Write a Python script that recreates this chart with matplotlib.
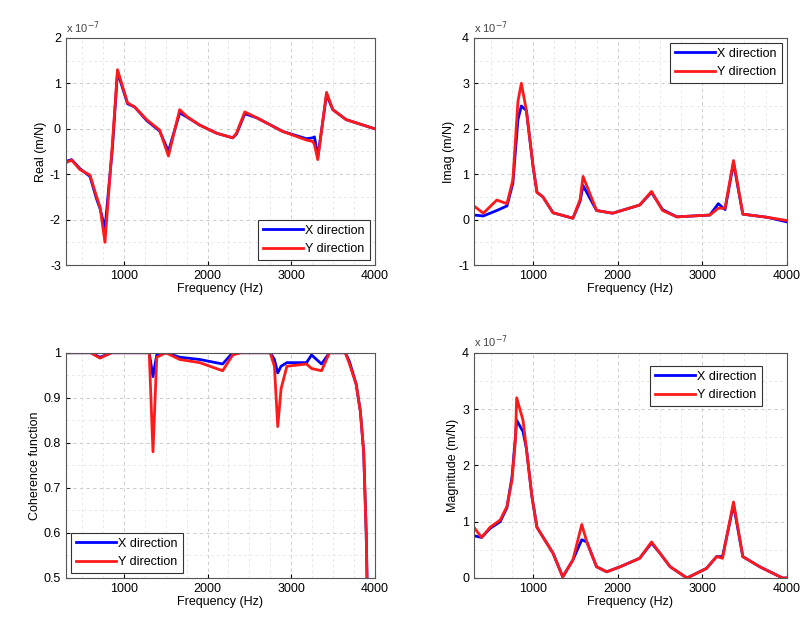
import matplotlib
matplotlib.use('Agg')
import matplotlib.pyplot as plt
import numpy as np
from matplotlib.ticker import MultipleLocator

plt.rcParams['font.family'] = ['Liberation Sans', 'DejaVu Sans']
plt.rcParams['font.size'] = 9
plt.rcParams['axes.unicode_minus'] = False

# Real part (x 1e-7 m/N)
f_re = [300, 370, 470, 590, 670, 710, 770, 860, 920, 1040, 1125, 1270, 1425, 1530,
        1665, 1750, 1905, 2110, 2300, 2345, 2445, 2590, 2900, 3185, 3260, 3280, 3320,
        3425, 3500, 3660, 4000]
re_x = [-0.72, -0.68, -0.88, -1.05, -1.55, -1.75, -2.2, -0.4, 1.25, 0.55, 0.48, 0.18, -0.05,
        -0.5, 0.35, 0.26, 0.08, -0.1, -0.2, -0.12, 0.33, 0.24, -0.06, -0.22, -0.2, -0.18,
        -0.62, 0.75, 0.42, 0.2, 0.0]
re_y = [-0.75, -0.69, -0.9, -1.02, -1.5, -1.72, -2.5, -0.3, 1.3, 0.57, 0.48, 0.2, -0.03,
        -0.6, 0.42, 0.27, 0.08, -0.1, -0.2, -0.1, 0.37, 0.24, -0.06, -0.25, -0.28, -0.35,
        -0.68, 0.8, 0.42, 0.2, 0.0]

# Imaginary part (x 1e-7 m/N)
f_im = [300, 410, 570, 690, 760, 820, 860, 920, 1000, 1045, 1115, 1235, 1470, 1555,
        1590, 1750, 1940, 2260, 2400, 2530, 2700, 3090, 3190, 3270, 3370, 3480, 3770, 4000]
im_x = [0.1, 0.08, 0.2, 0.3, 0.8, 2.2, 2.5, 2.4, 1.15, 0.6, 0.5, 0.15, 0.03, 0.4,
        0.75, 0.2, 0.14, 0.32, 0.6, 0.22, 0.06, 0.1, 0.35, 0.22, 1.25, 0.12, 0.05, -0.05]
im_y = [0.3, 0.14, 0.43, 0.35, 0.87, 2.6, 3.0, 2.4, 1.16, 0.6, 0.5, 0.15, 0.03, 0.44,
        0.95, 0.2, 0.14, 0.32, 0.62, 0.2, 0.06, 0.1, 0.25, 0.25, 1.3, 0.12, 0.05, -0.02]

# Coherence function
f_co = [300, 600, 710, 850, 1300, 1345, 1390, 1500, 1665, 1905, 2180, 2300, 2400, 2750,
        2800, 2840, 2880, 2950, 3185, 3245, 3365, 3460, 3650, 3700, 3780, 3830, 3870,
        3900, 3920]
co_x = [1.0, 1.0, 0.99, 1.0, 1.0, 0.947, 0.995, 1.0, 0.99, 0.985, 0.975, 1.0, 1.0, 1.0,
        0.985, 0.955, 0.97, 0.978, 0.978, 0.995, 0.975, 1.0, 1.0, 0.98, 0.93, 0.87, 0.78,
        0.6, 0.4]
co_y = [1.0, 1.0, 0.988, 1.0, 1.0, 0.78, 0.99, 1.0, 0.985, 0.978, 0.96, 0.995, 1.0, 1.0,
        0.97, 0.836, 0.92, 0.97, 0.975, 0.965, 0.96, 1.0, 1.0, 0.975, 0.93, 0.87, 0.78,
        0.6, 0.4]

# Magnitude (x 1e-7 m/N)
f_mag = [300, 390, 490, 610, 690, 750, 790, 805, 880, 920, 985, 1045, 1115, 1235, 1350,
         1470, 1575, 1635, 1750, 1870, 2030, 2260, 2400, 2500, 2620, 2820, 3050, 3170,
         3240, 3370, 3480, 3680, 3950, 4000]
mag_x = [0.75, 0.72, 0.88, 1.0, 1.25, 1.8, 2.5, 2.8, 2.6, 2.3, 1.45, 0.9, 0.73, 0.44,
         0.02, 0.32, 0.68, 0.64, 0.2, 0.11, 0.2, 0.35, 0.62, 0.44, 0.2, 0.0, 0.17, 0.38,
         0.38, 1.3, 0.38, 0.2, 0.0, 0.0]
mag_y = [0.9, 0.72, 0.9, 1.03, 1.27, 1.74, 2.45, 3.2, 2.8, 2.3, 1.45, 0.9, 0.73, 0.44,
         0.02, 0.32, 0.95, 0.64, 0.2, 0.11, 0.2, 0.35, 0.64, 0.44, 0.2, 0.0, 0.17, 0.38,
         0.35, 1.35, 0.38, 0.2, 0.0, 0.0]

fig = plt.figure(figsize=(8.02, 6.31), dpi=100)
ax1 = fig.add_axes([0.082, 0.58, 0.385, 0.36])
ax2 = fig.add_axes([0.591, 0.58, 0.39, 0.36])
ax3 = fig.add_axes([0.082, 0.084, 0.385, 0.357])
ax4 = fig.add_axes([0.591, 0.084, 0.39, 0.357])

panels = [
    (ax1, f_re, re_x, re_y, (-3, 2), 1, 'Real (m/N)', 'lower right', True),
    (ax2, f_im, im_x, im_y, (-1, 4), 1, 'Imag (m/N)', 'upper right', True),
    (ax3, f_co, co_x, co_y, (0.5, 1.0), 0.1, 'Coherence function', 'lower left', False),
    (ax4, f_mag, mag_x, mag_y, (0, 4), 1, 'Magnitude (m/N)', 'upper right', True),
]

for ax, f, vx, vy, ylim, ystep, ylab, loc, scaled in panels:
    ax.plot(f, vx, color='#0000ff', lw=2, label='X direction')
    ax.plot(f, vy, color='#ff1a1a', lw=2, label='Y direction')
    ax.set_xlim(300, 4000)
    ax.set_ylim(*ylim)
    ax.xaxis.set_major_locator(MultipleLocator(1000))
    ax.xaxis.set_minor_locator(MultipleLocator(250))
    ax.yaxis.set_major_locator(MultipleLocator(ystep))
    ax.yaxis.set_minor_locator(MultipleLocator(ystep / 2))
    ax.grid(True, which='major', color='#c4c4c4', linestyle=(0, (4, 4)), lw=0.6)
    ax.grid(True, which='minor', color='#e0e0e0', linestyle=(0, (4, 4)), lw=0.5)
    ax.tick_params(direction='in', which='both', length=3)
    ax.tick_params(which='minor', length=0)
    for s in ax.spines.values():
        s.set_color('#555555')
    ax.set_xlabel('Frequency (Hz)', labelpad=1)
    ax.set_ylabel(ylab, labelpad=2)
    if scaled:
        ax.text(0.0, 1.01, r'x 10$^{-7}$', transform=ax.transAxes, fontsize=8,
                ha='left', va='bottom', color='#444444')
    if ax is ax4:
        leg = ax.legend(loc='upper right', bbox_to_anchor=(0.94, 0.97), fontsize=9,
                        handlelength=3.2, handletextpad=0.2, fancybox=False, framealpha=1)
    else:
        leg = ax.legend(loc=loc, fontsize=9, handlelength=3.2, handletextpad=0.2,
                        borderaxespad=0.4, fancybox=False, framealpha=1)
    leg.get_frame().set_edgecolor('#333333')
    leg.get_frame().set_linewidth(0.8)

ax1.set_yticks([-3, -2, -1, 0, 1, 2])
ax3.set_yticks([0.5, 0.6, 0.7, 0.8, 0.9, 1.0])
ax3.set_yticklabels(['0.5', '0.6', '0.7', '0.8', '0.9', '1'])

fig.savefig('out.png', dpi=100)
